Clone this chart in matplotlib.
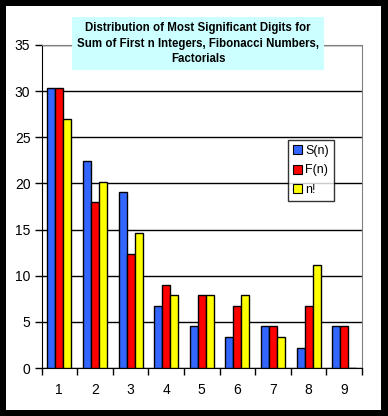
import matplotlib
matplotlib.use("Agg")
import matplotlib.pyplot as plt
import numpy as np
from matplotlib.patches import Rectangle

plt.rcParams['font.family'] = ['Liberation Sans', 'DejaVu Sans']

# data (percent of first 89 terms)
digits = ['1', '2', '3', '4', '5', '6', '7', '8', '9']
s_n = [30.3, 22.4, 19.1, 6.7, 4.5, 3.4, 4.5, 2.2, 4.5]
f_n = [30.3, 18.0, 12.4, 9.0, 7.9, 6.7, 4.5, 6.7, 4.5]
n_fact = [27.0, 20.2, 14.6, 7.9, 7.9, 7.9, 3.4, 11.2, 0.0]
series = [('S(n)', s_n, '#3366FF'), ('F(n)', f_n, '#FF0000'), ('n!', n_fact, '#FFFF00')]

W, H = 388, 416
fig = plt.figure(figsize=(W / 100, H / 100), dpi=100)
fig.patch.set_facecolor('black')
# white chart area inside black frame
fig.patches.append(Rectangle((6 / W, 1 - 410 / H), 375 / W, 404 / H,
                             transform=fig.transFigure, facecolor='white',
                             edgecolor='none', zorder=-5))

ax = fig.add_axes([41.5 / W, 1 - 368 / H, (362 - 41.5) / W, (368 - 45) / H])
ax.set_facecolor('white')

x = np.arange(len(digits))
width = 0.225
for i, (name, vals, col) in enumerate(series):
    ax.bar(x + (i - 1) * width, vals, width, color=col, edgecolor='black',
           linewidth=1, label=name, zorder=3)

ax.set_xlim(-0.5, len(digits) - 0.5)
ax.set_ylim(0, 35)
ax.set_yticks(range(0, 36, 5))
ax.yaxis.grid(True, color='black', linewidth=1, zorder=0)
ax.set_axisbelow(True)

# x ticks at category boundaries, labels at centres
ax.set_xticks(np.arange(-0.5, len(digits)), minor=False)
ax.set_xticklabels([])
ax.set_xticks(x, minor=True)
ax.set_xticklabels(digits, minor=True)
ax.tick_params(axis='x', which='major', direction='out', length=5, width=1, color='black')
ax.tick_params(axis='x', which='minor', length=0, pad=11, labelsize=10)
ax.tick_params(axis='y', direction='out', length=5, width=1, color='black', labelsize=10, pad=3)

for side in ['top', 'right']:
    ax.spines[side].set_color('#808080')
for side in ['left', 'bottom']:
    ax.spines[side].set_color('black')

leg = ax.legend(loc='upper left', bbox_to_anchor=((288 - 41.5) / (362 - 41.5), 1 - (140 - 45) / 323),
                frameon=True, fancybox=False, fontsize=9, handlelength=0.7, handleheight=0.7,
                handletextpad=0.3, borderpad=0.4, labelspacing=0.6, borderaxespad=0)
leg.get_frame().set_edgecolor('black')
leg.get_frame().set_linewidth(1)
for h in leg.legend_handles:
    h.set_linewidth(0.8)

fig.text(198 / W, 1 - 43.5 / H,
         'Distribution of Most Significant Digits for\nSum of First n Integers, Fibonacci Numbers,\nFactorials',
         ha='center', va='center', fontsize=8.3, fontweight='bold', linespacing=1.4,
         bbox=dict(boxstyle='square,pad=0.45', facecolor='#CCFFFF', edgecolor='none'),
         zorder=10)

fig.savefig('out.png', dpi=100, facecolor=fig.get_facecolor())
